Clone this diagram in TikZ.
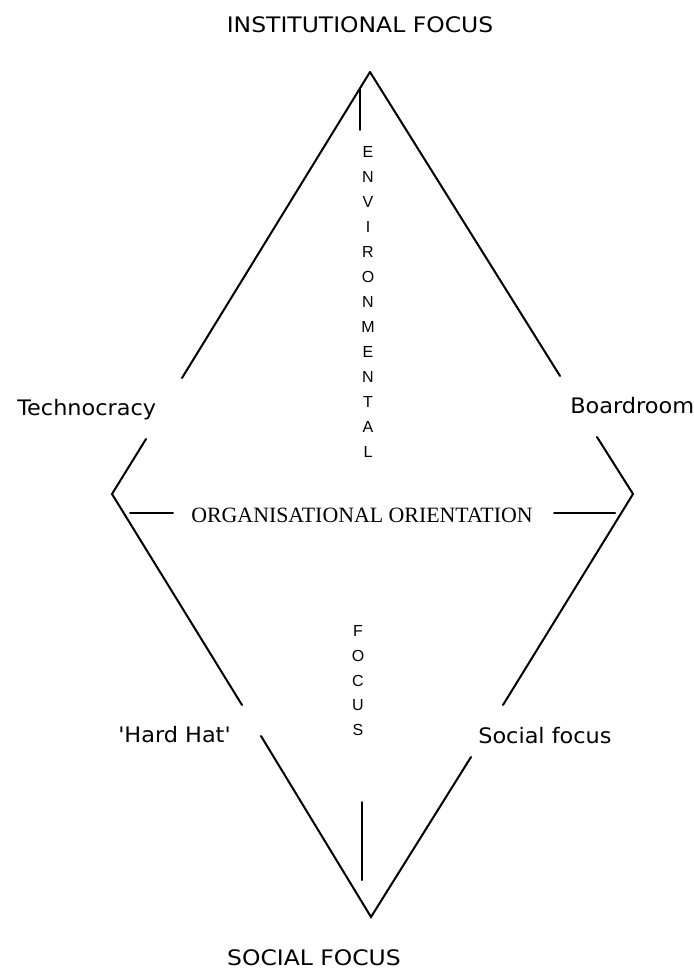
\documentclass[tikz,border=0pt]{standalone}
\usepackage{fontspec}
\usepackage{tikz}
\newfontfamily\handfont[FakeStretch=1.05]{DejaVu Sans}
\newfontfamily\handwide[FakeStretch=1.1]{DejaVu Sans}
\newfontfamily\romfont{Liberation Serif}
\newfontfamily\arialfont{Liberation Sans}
\tikzset{
  edge/.style={line width=1.5pt, line cap=round},
  pole/.style={font=\handwide\fontsize{16}{18}\selectfont, inner sep=0pt, anchor=base},
  corner/.style={font=\handfont\fontsize{16}{18}\selectfont, inner sep=0pt, anchor=base west},
  axis/.style={font=\romfont\fontsize{16.4}{18}\selectfont, inner sep=0pt, anchor=base},
  letter/.style={font=\arialfont\fontsize{12}{14}\selectfont, inner sep=0pt},
}

\begin{document}
\begin{tikzpicture}[x=0.75pt,y=-0.75pt]
  \useasboundingbox (0,0) rectangle (693,969);
  % corners of the diamond
  \coordinate (top) at (370,72);
  \coordinate (lft) at (112,494);
  \coordinate (rgt) at (633,494);
  \coordinate (bot) at (371,917);
  % ends of the broken sides
  \coordinate (tl1) at (182,378);
  \coordinate (tl2) at (146,439);
  \coordinate (bl1) at (242,705);
  \coordinate (bl2) at (261,736);
  \coordinate (tr1) at (560,376);
  \coordinate (tr2) at (597,437);
  \coordinate (br1) at (503,705);
  \coordinate (br2) at (471,757);
  % axis stubs
  \coordinate (vt1) at (360,89);
  \coordinate (vt2) at (360,130);
  \coordinate (vb1) at (362,802);
  \coordinate (vb2) at (362,880);
  \coordinate (hl1) at (130,513);
  \coordinate (hl2) at (173,513);
  \coordinate (hr1) at (554,513);
  \coordinate (hr2) at (615,513);

  \draw[edge] (top) -- (tl1);
  \draw[edge] (tl2) -- (lft) -- (bl1);
  \draw[edge] (bl2) -- (bot) -- (br2);
  \draw[edge] (br1) -- (rgt) -- (tr2);
  \draw[edge] (tr1) -- (top);
  \draw[edge] (vt1) -- (vt2);
  \draw[edge] (vb1) -- (vb2);
  \draw[edge] (hl1) -- (hl2);
  \draw[edge] (hr1) -- (hr2);

  \node[pole] (inst) at (360,33) {INSTITUTIONAL FOCUS};
  \node[pole] (soc) at (314,965) {SOCIAL FOCUS};
  \node[corner] (tech) at (17,415) {Technocracy};
  \node[corner] (board) at (570,413) {Boardroom};
  \node[corner] (hard) at (118,742) {'Hard Hat'};
  \node[corner] (socf) at (478,743) {Social focus};
  \node[axis] (orient) at (362,522) {ORGANISATIONAL ORIENTATION};

  \foreach \ch [count=\i] in {E,N,V,I,R,O,N,M,E,N,T,A,L}
    \node[letter] (env\i) at (368,{152+25*(\i-1)}) {\ch};
  \foreach \ch [count=\i] in {F,O,C,U,S}
    \node[letter] (foc\i) at (358,{631+24.75*(\i-1)}) {\ch};
\end{tikzpicture}
\end{document}
